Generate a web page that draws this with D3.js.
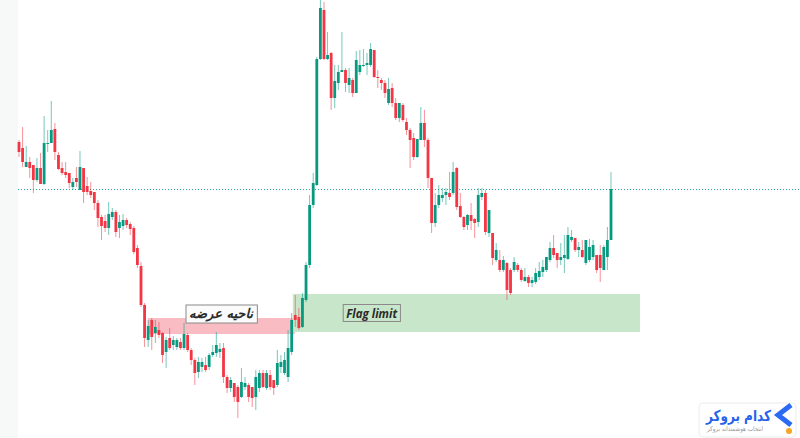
<!DOCTYPE html>
<html>
<head>
<meta charset="utf-8">
<script src="https://cdn.jsdelivr.net/npm/d3@7"></script>
<style>
  html, body { margin: 0; padding: 0; background: #ffffff; }
  svg { display: block; }
</style>
</head>
<body>
<div id="chart"></div>
<script>
// candle data (price units)
var open  = [298,292,273,278,275,260,272,256,296,297,311,285,272,268,267,253,262,250,272,254,249,248,237,223,219,212,223,228,212,214,
             220,216,212,192,174,135,100,120,107,110,107,88,102,95,93,98,92,105,90,80,68,73,75,73,85,87,88,92,63,52,
             57,53,43,53,55,53,43,52,67,52,65,60,55,73,67,63,88,125,123,113,140,175,235,255,381,430,381,387,342,357,
             368,370,355,360,347,368,374,375,375,390,363,360,357,337,352,337,322,335,318,310,302,283,300,317,300,262,217,235,242,245,
             247,247,272,234,223,215,225,221,218,243,247,207,207,180,180,170,177,170,170,175,170,159,163,157,158,163,168,170,180,192,
             187,180,182,181,200,202,190,190,177,180,183,185,185,170,183,200];
var high  = [300,313,294,283,275,282,287,324,310,339,317,288,278,278,267,262,273,289,272,263,258,248,240,225,225,238,232,230,225,226,
             222,218,214,195,178,137,120,122,120,118,108,103,112,104,102,102,117,107,92,82,83,82,83,87,95,108,97,97,65,63,
             57,55,72,63,57,53,70,70,70,70,70,60,90,85,88,110,127,145,132,147,178,245,267,383,440,438,408,388,375,375,
             408,372,372,362,389,390,391,387,397,390,370,362,360,362,357,342,337,337,322,312,307,301,333,330,302,262,247,255,252,252,
             268,278,273,247,224,226,237,222,252,252,250,230,207,197,190,184,178,172,183,177,172,172,165,163,172,178,180,183,198,205,
             187,197,205,213,210,202,198,200,200,201,200,185,195,195,213,268];
var low   = [283,273,273,262,247,258,256,255,288,297,280,270,265,262,252,250,253,250,237,245,242,230,213,200,208,205,220,203,202,210,
             212,205,186,172,133,93,93,90,97,102,77,72,90,90,90,90,90,88,75,55,62,68,68,70,83,83,82,57,47,48,
             38,22,42,50,38,33,30,48,52,50,50,45,53,67,65,58,85,113,110,112,138,172,232,254,380,380,380,330,332,350,
             368,348,347,343,347,365,373,365,373,362,352,350,342,335,333,320,318,318,305,272,280,282,300,293,252,207,213,232,238,235,
             240,245,230,222,210,210,210,202,213,240,205,203,175,178,168,168,140,145,168,168,158,158,153,153,156,160,163,168,178,182,
             172,175,167,180,198,188,183,182,175,178,180,167,158,170,170,200];
var close = [288,278,278,272,260,272,256,297,297,310,288,271,267,265,257,258,258,273,248,248,245,237,222,214,212,226,228,208,218,220,
             215,211,188,175,135,102,114,103,113,105,85,100,92,100,100,92,106,90,80,67,78,78,70,85,88,95,91,63,52,60,
             43,38,58,57,43,42,63,67,53,67,53,52,77,78,80,92,120,120,112,142,175,235,257,381,432,381,385,342,359,368,
             370,357,362,347,380,375,375,377,391,363,362,357,347,351,337,322,337,320,310,300,283,301,317,300,262,217,235,245,245,248,
             243,268,233,223,213,225,219,217,245,247,208,230,182,190,170,180,150,147,178,170,160,163,157,160,167,169,173,183,192,185,
             180,183,185,205,203,190,193,183,200,193,195,170,172,193,200,251];

// marked zones (start/end candle index, price top/bottom)
var zoneNames  = ["supply", "flag"];
var zoneStart  = [35.9, 76.3];
var zoneEnd    = [76.9, 173.1];
var zoneTop    = [122, 146];
var zoneBottom = [106, 108];

// text labels (candle index, price)
var labelText  = ["ناحیه عرضه", "Flag limit"];
var labelIndex = [56.3, 98.3];
var labelPrice = [126.5, 127];

var width = 800, height = 438;
var up = "#089981", down = "#f23645";

var candles = open.map(function(o, i) {
  return { i: i, o: o, h: Math.max(high[i], o, close[i]), l: Math.min(low[i], o, close[i]), c: close[i] };
});

var x = d3.scaleLinear().domain([0, candles.length - 1]).range([19, 611]);
var y = d3.scaleLinear().domain([0, 440]).range([440, 0]);
var bodyW = 2.8;

var svg = d3.select("#chart").append("svg")
  .attr("width", width)
  .attr("height", height);

svg.append("rect").attr("width", width).attr("height", height).attr("fill", "#ffffff");
svg.append("rect").attr("width", 18).attr("height", height).attr("fill", "#f7f8f8");

// zones
var zoneFill = ["#f9bcc3", "#c8e6c9"];
svg.selectAll("rect.zone").data(zoneNames).enter()
  .append("rect")
    .attr("class", "zone")
    .attr("x", function(d, i) { return x(zoneStart[i]); })
    .attr("width", function(d, i) { return x(zoneEnd[i]) - x(zoneStart[i]); })
    .attr("y", function(d, i) { return y(zoneTop[i]); })
    .attr("height", function(d, i) { return y(zoneBottom[i]) - y(zoneTop[i]); })
    .attr("fill", function(d, i) { return zoneFill[i]; });

// last price line
var last = candles[candles.length - 1].c;
svg.append("line")
  .attr("x1", 18).attr("x2", width)
  .attr("y1", Math.round(y(last)) + 0.5).attr("y2", Math.round(y(last)) + 0.5)
  .attr("stroke", "#26a69a")
  .attr("stroke-width", 1)
  .attr("stroke-dasharray", "1,2");

// candles
var g = svg.append("g").attr("class", "candles");
var cg = g.selectAll("g").data(candles).enter().append("g");

cg.append("line")
  .attr("x1", function(d) { return x(d.i); })
  .attr("x2", function(d) { return x(d.i); })
  .attr("y1", function(d) { return y(d.h); })
  .attr("y2", function(d) { return y(d.l); })
  .attr("stroke", function(d) { return d.c >= d.o ? up : down; })
  .attr("stroke-opacity", 0.55)
  .attr("stroke-width", 1);

cg.append("rect")
  .attr("x", function(d) { return x(d.i) - bodyW / 2; })
  .attr("width", bodyW)
  .attr("y", function(d) { return y(Math.max(d.o, d.c)); })
  .attr("height", function(d) { return Math.max(1, Math.abs(y(d.o) - y(d.c))); })
  .attr("fill", function(d) { return d.c >= d.o ? up : down; });

// labels
var labelFill = ["#fbfbfb", "#c8e6c9"];
var labelFont = ["DejaVu Sans", "'Open Sans', 'DejaVu Sans'"];
var labelSize = [13, 11.5];
labelText.forEach(function(t, i) {
  var lg = svg.append("g");
  var txt = lg.append("text")
    .attr("x", x(labelIndex[i]))
    .attr("y", y(labelPrice[i]))
    .attr("text-anchor", "middle")
    .attr("dominant-baseline", "central")
    .attr("font-family", labelFont[i])
    .attr("font-size", labelSize[i])
    .attr("font-weight", "bold")
    .attr("font-style", "italic")
    .attr("fill", "#2b2b2b")
    .text(t);
  var bb = txt.node().getBBox();
  lg.insert("rect", "text")
    .attr("x", bb.x - 3).attr("y", bb.y - 1)
    .attr("width", bb.width + 6).attr("height", bb.height + 2)
    .attr("fill", labelFill[i])
    .attr("stroke", "#8a8a8a")
    .attr("stroke-width", 1);
});

// watermark logo
var logo = svg.append("g");
logo.append("rect")
  .attr("x", 699).attr("y", 403).attr("width", 97).attr("height", 34)
  .attr("rx", 4).attr("fill", "#ffffff")
  .attr("stroke", "#ececec");
logo.append("text")
  .attr("x", 771).attr("y", 421)
  .attr("text-anchor", "end")
  .attr("font-family", "DejaVu Sans")
  .attr("font-weight", "bold")
  .attr("font-size", 15)
  .attr("textLength", 65)
  .attr("lengthAdjust", "spacingAndGlyphs")
  .attr("fill", "#2563eb")
  .text("کدام بروکر");
logo.append("text")
  .attr("x", 763).attr("y", 431)
  .attr("text-anchor", "end")
  .attr("font-family", "DejaVu Sans")
  .attr("font-size", 6.5)
  .attr("textLength", 56)
  .attr("lengthAdjust", "spacingAndGlyphs")
  .attr("fill", "#9a9a9a")
  .text("انتخاب هوشمندانه بروکر");
logo.append("path")
  .attr("d", "M791,405 L778,415 L791,425")
  .attr("fill", "none")
  .attr("stroke", "#2b6af3")
  .attr("stroke-width", 5)
  .attr("stroke-linejoin", "miter");
logo.append("circle")
  .attr("cx", 789).attr("cy", 431).attr("r", 3)
  .attr("fill", "#f6a623");
</script>
</body>
</html>
